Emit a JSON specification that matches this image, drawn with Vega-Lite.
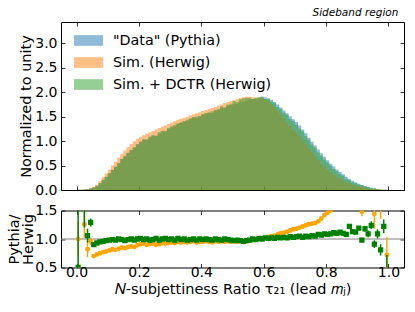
{
  "$schema": "https://vega.github.io/schema/vega-lite/v6.json",
  "padding": {"left": 5, "top": 7, "right": 12, "bottom": 5},
  "spacing": 4.5,
  "config": {
    "font": "DejaVu Sans",
    "view": {"stroke": "#000", "strokeWidth": 1},
    "axis": {
      "labelFont": "DejaVu Sans", "labelFontSize": 14, "labelColor": "#000",
      "titleFont": "DejaVu Sans", "titleFontSize": 14.5, "titleFontWeight": "normal", "titleColor": "#000",
      "tickColor": "#000", "tickSize": -4, "tickWidth": 0.8, "domain": false, "grid": false, "labelPadding": 1
    },
    "axisLeft": {"labelPadding": 8},
    "axisBottom": {"labelPadding": 2}
  },
  "datasets": {
    "hist": [
      {"x":0.005,"p":0.003,"h":0.003,"d":0.004},{"x":0.015,"p":0.006,"h":0.004,"d":0.005},{"x":0.025,"p":0.010,"h":0.008,"d":0.006},{"x":0.035,"p":0.016,"h":0.020,"d":0.015},{"x":0.045,"p":0.036,"h":0.040,"d":0.028},
      {"x":0.055,"p":0.046,"h":0.065,"d":0.051},{"x":0.065,"p":0.080,"h":0.110,"d":0.086},{"x":0.075,"p":0.135,"h":0.180,"d":0.142},{"x":0.085,"p":0.200,"h":0.260,"d":0.208},{"x":0.095,"p":0.265,"h":0.340,"d":0.273},
      {"x":0.105,"p":0.336,"h":0.420,"d":0.343},{"x":0.115,"p":0.410,"h":0.500,"d":0.414},{"x":0.125,"p":0.470,"h":0.580,"d":0.480},{"x":0.135,"p":0.548,"h":0.660,"d":0.548},{"x":0.145,"p":0.629,"h":0.740,"d":0.635},
      {"x":0.155,"p":0.680,"h":0.810,"d":0.701},{"x":0.165,"p":0.757,"h":0.880,"d":0.765},{"x":0.175,"p":0.818,"h":0.940,"d":0.818},{"x":0.185,"p":0.860,"h":1.000,"d":0.878},{"x":0.195,"p":0.935,"h":1.050,"d":0.935},
      {"x":0.205,"p":0.992,"h":1.090,"d":0.982},{"x":0.215,"p":1.030,"h":1.120,"d":1.040},{"x":0.225,"p":1.035,"h":1.150,"d":1.035},{"x":0.235,"p":1.074,"h":1.180,"d":1.096},{"x":0.245,"p":1.113,"h":1.210,"d":1.124},
      {"x":0.255,"p":1.116,"h":1.240,"d":1.105},{"x":0.265,"p":1.156,"h":1.270,"d":1.180},{"x":0.275,"p":1.209,"h":1.300,"d":1.209},{"x":0.285,"p":1.214,"h":1.320,"d":1.202},{"x":0.295,"p":1.256,"h":1.350,"d":1.269},
      {"x":0.305,"p":1.297,"h":1.380,"d":1.297},{"x":0.315,"p":1.311,"h":1.410,"d":1.338},{"x":0.325,"p":1.368,"h":1.440,"d":1.354},{"x":0.335,"p":1.372,"h":1.460,"d":1.386},{"x":0.345,"p":1.406,"h":1.480,"d":1.406},
      {"x":0.355,"p":1.410,"h":1.500,"d":1.439},{"x":0.365,"p":1.454,"h":1.530,"d":1.469},{"x":0.375,"p":1.488,"h":1.550,"d":1.488},{"x":0.385,"p":1.476,"h":1.570,"d":1.506},{"x":0.395,"p":1.510,"h":1.590,"d":1.510},
      {"x":0.405,"p":1.539,"h":1.620,"d":1.555},{"x":0.415,"p":1.574,"h":1.640,"d":1.574},{"x":0.425,"p":1.577,"h":1.660,"d":1.593},{"x":0.435,"p":1.579,"h":1.680,"d":1.611},{"x":0.445,"p":1.632,"h":1.700,"d":1.632},
      {"x":0.455,"p":1.644,"h":1.730,"d":1.661},{"x":0.465,"p":1.680,"h":1.750,"d":1.714},{"x":0.475,"p":1.691,"h":1.780,"d":1.691},{"x":0.485,"p":1.728,"h":1.800,"d":1.745},{"x":0.495,"p":1.729,"h":1.820,"d":1.764},
      {"x":0.505,"p":1.766,"h":1.840,"d":1.821},{"x":0.515,"p":1.767,"h":1.860,"d":1.803},{"x":0.525,"p":1.805,"h":1.880,"d":1.861},{"x":0.535,"p":1.805,"h":1.900,"d":1.880},{"x":0.545,"p":1.834,"h":1.910,"d":1.891},
      {"x":0.555,"p":1.853,"h":1.910,"d":1.891},{"x":0.565,"p":1.862,"h":1.900,"d":1.862},{"x":0.575,"p":1.871,"h":1.890,"d":1.890},{"x":0.585,"p":1.900,"h":1.900,"d":1.881},{"x":0.595,"p":1.910,"h":1.890,"d":1.910},
      {"x":0.605,"p":1.900,"h":1.863,"d":1.863},{"x":0.615,"p":1.880,"h":1.825,"d":1.861},{"x":0.625,"p":1.850,"h":1.762,"d":1.814},{"x":0.635,"p":1.800,"h":1.698,"d":1.782},{"x":0.645,"p":1.750,"h":1.620,"d":1.699},
      {"x":0.655,"p":1.690,"h":1.536,"d":1.657},{"x":0.665,"p":1.630,"h":1.468,"d":1.583},{"x":0.675,"p":1.570,"h":1.389,"d":1.539},{"x":0.685,"p":1.510,"h":1.313,"d":1.452},{"x":0.695,"p":1.450,"h":1.239,"d":1.408},
      {"x":0.705,"p":1.390,"h":1.178,"d":1.337},{"x":0.715,"p":1.320,"h":1.100,"d":1.257},{"x":0.725,"p":1.240,"h":1.016,"d":1.204},{"x":0.735,"p":1.160,"h":0.935,"d":1.105},{"x":0.745,"p":1.070,"h":0.849,"d":1.029},
      {"x":0.755,"p":0.990,"h":0.780,"d":0.934},{"x":0.765,"p":0.910,"h":0.689,"d":0.867},{"x":0.775,"p":0.830,"h":0.610,"d":0.769},{"x":0.785,"p":0.750,"h":0.536,"d":0.701},{"x":0.795,"p":0.680,"h":0.469,"d":0.624},
      {"x":0.805,"p":0.610,"h":0.412,"d":0.565},{"x":0.815,"p":0.540,"h":0.360,"d":0.495},{"x":0.825,"p":0.480,"h":0.310,"d":0.432},{"x":0.835,"p":0.420,"h":0.262,"d":0.382},{"x":0.845,"p":0.370,"h":0.228,"d":0.330},
      {"x":0.855,"p":0.320,"h":0.193,"d":0.291},{"x":0.865,"p":0.270,"h":0.159,"d":0.221},{"x":0.875,"p":0.230,"h":0.134,"d":0.204},{"x":0.885,"p":0.190,"h":0.109,"d":0.160},{"x":0.895,"p":0.160,"h":0.094,"d":0.145},
      {"x":0.905,"p":0.130,"h":0.072,"d":0.110},{"x":0.915,"p":0.100,"h":0.068,"d":0.102},{"x":0.925,"p":0.080,"h":0.043,"d":0.073},{"x":0.935,"p":0.060,"h":0.032,"d":0.067},{"x":0.945,"p":0.045,"h":0.022,"d":0.036},
      {"x":0.955,"p":0.030,"h":0.021,"d":0.037},{"x":0.965,"p":0.020,"h":0.010,"d":0.017},{"x":0.975,"p":0.010,"h":0.006,"d":0.012},{"x":0.985,"p":0.005,"h":0.0025,"d":0.005},{"x":0.995,"p":0.002,"h":0.003,"d":0.005}
    ],
    "ro": [
      {"x":0.005,"r":1.00,"lo":0.70,"hi":1.30},{"x":0.025,"r":1.26,"lo":1.02,"hi":1.60},{"x":0.035,"r":0.82,"lo":0.68,"hi":0.96},{"x":0.045,"r":0.96,"lo":0.90,"hi":1.02},
      {"x":0.055,"r":0.70,"lo":0.67,"hi":0.73},{"x":0.065,"r":0.73,"lo":0.71,"hi":0.75},{"x":0.075,"r":0.75,"lo":0.73,"hi":0.77},{"x":0.085,"r":0.77,"lo":0.755,"hi":0.785},
      {"x":0.095,"r":0.78,"lo":0.768,"hi":0.792},{"x":0.105,"r":0.80,"lo":0.788,"hi":0.812},{"x":0.115,"r":0.82,"lo":0.808,"hi":0.832},{"x":0.125,"r":0.81,"lo":0.798,"hi":0.822},
      {"x":0.135,"r":0.83,"lo":0.818,"hi":0.842},{"x":0.145,"r":0.85,"lo":0.838,"hi":0.862},{"x":0.155,"r":0.84,"lo":0.828,"hi":0.852},{"x":0.165,"r":0.86,"lo":0.848,"hi":0.872},
      {"x":0.175,"r":0.87,"lo":0.86,"hi":0.88},{"x":0.185,"r":0.86,"lo":0.85,"hi":0.87},{"x":0.195,"r":0.89,"lo":0.88,"hi":0.90},{"x":0.205,"r":0.91,"lo":0.90,"hi":0.92},
      {"x":0.215,"r":0.92,"lo":0.91,"hi":0.93},{"x":0.225,"r":0.90,"lo":0.89,"hi":0.91},{"x":0.235,"r":0.91,"lo":0.90,"hi":0.92},{"x":0.245,"r":0.92,"lo":0.91,"hi":0.93},
      {"x":0.255,"r":0.90,"lo":0.89,"hi":0.91},{"x":0.265,"r":0.91,"lo":0.90,"hi":0.92},{"x":0.275,"r":0.93,"lo":0.92,"hi":0.94},{"x":0.285,"r":0.92,"lo":0.91,"hi":0.93},
      {"x":0.295,"r":0.93,"lo":0.92,"hi":0.94},{"x":0.305,"r":0.94,"lo":0.93,"hi":0.95},{"x":0.315,"r":0.93,"lo":0.92,"hi":0.94},{"x":0.325,"r":0.95,"lo":0.94,"hi":0.96},
      {"x":0.335,"r":0.94,"lo":0.93,"hi":0.95},{"x":0.345,"r":0.95,"lo":0.94,"hi":0.96},{"x":0.355,"r":0.94,"lo":0.93,"hi":0.95},{"x":0.365,"r":0.95,"lo":0.94,"hi":0.96},
      {"x":0.375,"r":0.96,"lo":0.95,"hi":0.97},{"x":0.385,"r":0.94,"lo":0.93,"hi":0.95},{"x":0.395,"r":0.95,"lo":0.94,"hi":0.96},{"x":0.405,"r":0.95,"lo":0.94,"hi":0.96},
      {"x":0.415,"r":0.96,"lo":0.95,"hi":0.97},{"x":0.425,"r":0.95,"lo":0.94,"hi":0.96},{"x":0.435,"r":0.94,"lo":0.93,"hi":0.95},{"x":0.445,"r":0.96,"lo":0.95,"hi":0.97},
      {"x":0.455,"r":0.95,"lo":0.94,"hi":0.96},{"x":0.465,"r":0.96,"lo":0.95,"hi":0.97},{"x":0.475,"r":0.95,"lo":0.94,"hi":0.96},{"x":0.485,"r":0.96,"lo":0.95,"hi":0.97},
      {"x":0.495,"r":0.95,"lo":0.94,"hi":0.96},{"x":0.505,"r":0.96,"lo":0.95,"hi":0.97},{"x":0.515,"r":0.95,"lo":0.94,"hi":0.96},{"x":0.525,"r":0.96,"lo":0.95,"hi":0.97},
      {"x":0.535,"r":0.95,"lo":0.94,"hi":0.96},{"x":0.545,"r":0.96,"lo":0.95,"hi":0.97},{"x":0.555,"r":0.97,"lo":0.96,"hi":0.98},{"x":0.565,"r":0.98,"lo":0.97,"hi":0.99},
      {"x":0.575,"r":0.99,"lo":0.98,"hi":1.00},{"x":0.585,"r":1.00,"lo":0.99,"hi":1.01},{"x":0.595,"r":1.01,"lo":1.00,"hi":1.02},{"x":0.605,"r":1.02,"lo":1.01,"hi":1.03},
      {"x":0.615,"r":1.03,"lo":1.02,"hi":1.04},{"x":0.625,"r":1.05,"lo":1.04,"hi":1.06},{"x":0.635,"r":1.06,"lo":1.05,"hi":1.07},{"x":0.645,"r":1.08,"lo":1.07,"hi":1.09},
      {"x":0.655,"r":1.10,"lo":1.09,"hi":1.11},{"x":0.665,"r":1.11,"lo":1.10,"hi":1.12},{"x":0.675,"r":1.13,"lo":1.12,"hi":1.14},{"x":0.685,"r":1.15,"lo":1.14,"hi":1.16},
      {"x":0.695,"r":1.17,"lo":1.16,"hi":1.18},{"x":0.705,"r":1.18,"lo":1.17,"hi":1.19},{"x":0.715,"r":1.20,"lo":1.19,"hi":1.21},{"x":0.725,"r":1.22,"lo":1.21,"hi":1.23},
      {"x":0.735,"r":1.24,"lo":1.23,"hi":1.25},{"x":0.745,"r":1.26,"lo":1.25,"hi":1.27},{"x":0.755,"r":1.27,"lo":1.26,"hi":1.28},{"x":0.765,"r":1.28,"lo":1.265,"hi":1.295},
      {"x":0.775,"r":1.31,"lo":1.295,"hi":1.325},{"x":0.785,"r":1.36,"lo":1.34,"hi":1.38},{"x":0.795,"r":1.42,"lo":1.40,"hi":1.44},{"x":0.805,"r":1.46,"lo":1.44,"hi":1.48},
      {"x":0.815,"r":1.50,"lo":1.47,"hi":1.53},{"x":0.825,"r":1.55,"lo":1.52,"hi":1.58},{"x":0.835,"r":1.60,"lo":1.57,"hi":1.63},{"x":0.845,"r":1.62,"lo":1.58,"hi":1.66},
      {"x":0.855,"r":1.66,"lo":1.62,"hi":1.70},{"x":0.865,"r":1.70,"lo":1.65,"hi":1.75},{"x":0.875,"r":1.72,"lo":1.66,"hi":1.78},{"x":0.885,"r":1.75,"lo":1.68,"hi":1.82},
      {"x":0.895,"r":1.70,"lo":1.62,"hi":1.78},{"x":0.905,"r":1.80,"lo":1.70,"hi":1.90},{"x":0.915,"r":1.48,"lo":1.40,"hi":1.56},{"x":0.925,"r":1.85,"lo":1.72,"hi":1.98},
      {"x":0.935,"r":1.90,"lo":1.75,"hi":2.05},{"x":0.945,"r":2.00,"lo":1.80,"hi":2.20},{"x":0.955,"r":1.44,"lo":1.18,"hi":1.70},{"x":0.965,"r":2.10,"lo":1.80,"hi":2.40},
      {"x":0.975,"r":1.70,"lo":1.35,"hi":2.05},{"x":0.995,"r":0.72,"lo":0.30,"hi":1.03}
    ],
    "rg": [
      {"x":0.005,"r":0.50,"lo":-0.50,"hi":1.60},{"x":0.025,"r":1.80,"lo":1.20,"hi":2.40},{"x":0.035,"r":1.06,"lo":0.94,"hi":1.18},{"x":0.045,"r":1.29,"lo":1.22,"hi":1.36},
      {"x":0.055,"r":0.90,"lo":0.87,"hi":0.93},{"x":0.065,"r":0.93,"lo":0.91,"hi":0.95},{"x":0.075,"r":0.95,"lo":0.93,"hi":0.97},{"x":0.085,"r":0.96,"lo":0.945,"hi":0.975},
      {"x":0.095,"r":0.97,"lo":0.958,"hi":0.982},{"x":0.105,"r":0.98,"lo":0.968,"hi":0.992},{"x":0.115,"r":0.99,"lo":0.978,"hi":1.002},{"x":0.125,"r":0.98,"lo":0.968,"hi":0.992},
      {"x":0.135,"r":1.00,"lo":0.988,"hi":1.012},{"x":0.145,"r":0.99,"lo":0.978,"hi":1.002},{"x":0.155,"r":0.97,"lo":0.958,"hi":0.982},{"x":0.165,"r":0.99,"lo":0.978,"hi":1.002},
      {"x":0.175,"r":1.00,"lo":0.99,"hi":1.01},{"x":0.185,"r":0.98,"lo":0.97,"hi":0.99},{"x":0.195,"r":1.00,"lo":0.99,"hi":1.01},{"x":0.205,"r":1.01,"lo":1.00,"hi":1.02},
      {"x":0.215,"r":0.99,"lo":0.98,"hi":1.00},{"x":0.225,"r":1.00,"lo":0.99,"hi":1.01},{"x":0.235,"r":0.98,"lo":0.97,"hi":0.99},{"x":0.245,"r":0.99,"lo":0.98,"hi":1.00},
      {"x":0.255,"r":1.01,"lo":1.00,"hi":1.02},{"x":0.265,"r":0.98,"lo":0.97,"hi":0.99},{"x":0.275,"r":1.00,"lo":0.99,"hi":1.01},{"x":0.285,"r":1.01,"lo":1.00,"hi":1.02},
      {"x":0.295,"r":0.99,"lo":0.98,"hi":1.00},{"x":0.305,"r":1.00,"lo":0.99,"hi":1.01},{"x":0.315,"r":0.98,"lo":0.97,"hi":0.99},{"x":0.325,"r":1.01,"lo":1.00,"hi":1.02},
      {"x":0.335,"r":0.99,"lo":0.98,"hi":1.00},{"x":0.345,"r":1.00,"lo":0.99,"hi":1.01},{"x":0.355,"r":0.98,"lo":0.97,"hi":0.99},{"x":0.365,"r":0.99,"lo":0.98,"hi":1.00},
      {"x":0.375,"r":1.00,"lo":0.99,"hi":1.01},{"x":0.385,"r":0.98,"lo":0.97,"hi":0.99},{"x":0.395,"r":1.00,"lo":0.99,"hi":1.01},{"x":0.405,"r":0.99,"lo":0.98,"hi":1.00},
      {"x":0.415,"r":1.00,"lo":0.99,"hi":1.01},{"x":0.425,"r":0.99,"lo":0.98,"hi":1.00},{"x":0.435,"r":0.98,"lo":0.97,"hi":0.99},{"x":0.445,"r":1.00,"lo":0.99,"hi":1.01},
      {"x":0.455,"r":0.99,"lo":0.98,"hi":1.00},{"x":0.465,"r":0.98,"lo":0.97,"hi":0.99},{"x":0.475,"r":1.00,"lo":0.99,"hi":1.01},{"x":0.485,"r":0.99,"lo":0.98,"hi":1.00},
      {"x":0.495,"r":0.98,"lo":0.97,"hi":0.99},{"x":0.505,"r":0.97,"lo":0.96,"hi":0.98},{"x":0.515,"r":0.98,"lo":0.97,"hi":0.99},{"x":0.525,"r":0.97,"lo":0.96,"hi":0.98},
      {"x":0.535,"r":0.96,"lo":0.95,"hi":0.97},{"x":0.545,"r":0.97,"lo":0.96,"hi":0.98},{"x":0.555,"r":0.98,"lo":0.97,"hi":0.99},{"x":0.565,"r":1.00,"lo":0.99,"hi":1.01},
      {"x":0.575,"r":0.99,"lo":0.98,"hi":1.00},{"x":0.585,"r":1.01,"lo":1.00,"hi":1.02},{"x":0.595,"r":1.00,"lo":0.99,"hi":1.01},{"x":0.605,"r":1.02,"lo":1.01,"hi":1.03},
      {"x":0.615,"r":1.01,"lo":1.00,"hi":1.02},{"x":0.625,"r":1.02,"lo":1.01,"hi":1.03},{"x":0.635,"r":1.01,"lo":1.00,"hi":1.02},{"x":0.645,"r":1.03,"lo":1.02,"hi":1.04},
      {"x":0.655,"r":1.02,"lo":1.01,"hi":1.03},{"x":0.665,"r":1.03,"lo":1.02,"hi":1.04},{"x":0.675,"r":1.02,"lo":1.01,"hi":1.03},{"x":0.685,"r":1.04,"lo":1.03,"hi":1.05},
      {"x":0.695,"r":1.03,"lo":1.02,"hi":1.04},{"x":0.705,"r":1.04,"lo":1.03,"hi":1.05},{"x":0.715,"r":1.05,"lo":1.04,"hi":1.06},{"x":0.725,"r":1.03,"lo":1.02,"hi":1.04},
      {"x":0.735,"r":1.05,"lo":1.04,"hi":1.06},{"x":0.745,"r":1.04,"lo":1.03,"hi":1.05},{"x":0.755,"r":1.06,"lo":1.05,"hi":1.07},{"x":0.765,"r":1.05,"lo":1.04,"hi":1.06},
      {"x":0.775,"r":1.08,"lo":1.07,"hi":1.09},{"x":0.785,"r":1.07,"lo":1.06,"hi":1.08},{"x":0.795,"r":1.09,"lo":1.08,"hi":1.10},{"x":0.805,"r":1.08,"lo":1.065,"hi":1.095},
      {"x":0.815,"r":1.09,"lo":1.075,"hi":1.105},{"x":0.825,"r":1.11,"lo":1.095,"hi":1.125},{"x":0.835,"r":1.10,"lo":1.08,"hi":1.12},{"x":0.845,"r":1.12,"lo":1.10,"hi":1.14},
      {"x":0.855,"r":1.10,"lo":1.08,"hi":1.12},{"x":0.865,"r":1.08,"lo":1.05,"hi":1.11},{"x":0.875,"r":1.22,"lo":1.19,"hi":1.25},{"x":0.885,"r":1.13,"lo":1.10,"hi":1.16},
      {"x":0.895,"r":1.12,"lo":1.08,"hi":1.16},{"x":0.905,"r":1.19,"lo":1.15,"hi":1.23},{"x":0.915,"r":0.98,"lo":0.94,"hi":1.02},{"x":0.925,"r":1.18,"lo":1.13,"hi":1.23},
      {"x":0.935,"r":1.09,"lo":1.03,"hi":1.15},{"x":0.945,"r":1.24,"lo":1.17,"hi":1.31},{"x":0.955,"r":0.91,"lo":0.84,"hi":0.98},{"x":0.965,"r":1.09,"lo":1.01,"hi":1.17},
      {"x":0.975,"r":0.81,"lo":0.71,"hi":0.91},{"x":0.985,"r":1.22,"lo":1.10,"hi":1.34},{"x":0.995,"r":0.35,"lo":-0.20,"hi":0.72}
    ]
  },
  "vconcat": [
    {
      "width": 343,
      "height": 168,
      "title": {"text": "Sideband region", "anchor": "end", "fontSize": 10.5, "fontStyle": "italic", "fontWeight": "normal", "font": "DejaVu Sans", "color": "#000", "offset": 3, "dx": -6},
      "data": {"name": "hist"},
      "layer": [
        {
          "mark": {"type": "area", "interpolate": "step", "opacity": 0.5},
          "encoding": {
            "x": {"field": "x", "type": "quantitative", "scale": {"domain": [-0.05, 1.05], "nice": false, "zero": false},
                  "axis": {"values": [0, 0.2, 0.4, 0.6, 0.8, 1.0], "labels": false, "title": null, "labelPadding": 1}},
            "y": {"field": "p", "type": "quantitative", "scale": {"domain": [0, 3.44], "nice": false},
                  "axis": {"values": [0, 0.5, 1, 1.5, 2, 2.5, 3], "format": ".1f", "title": "Normalized to unity", "titleX": -35, "titleBaseline": "middle"}},
            "color": {"datum": "\"Data\" (Pythia)",
                      "scale": {"domain": ["\"Data\" (Pythia)", "Sim. (Herwig)", "Sim. + DCTR (Herwig)"], "range": ["#1f77b4", "#ff7f0e", "#2ca02c"]},
                      "legend": {"orient": "none", "legendX": 13, "legendY": 4, "title": null,
                                 "symbolType": "M-1,-0.37H1V0.37H-1Z", "symbolSize": 841, "symbolOpacity": 0.5, "symbolStrokeWidth": 0,
                                 "labelFont": "DejaVu Sans", "labelFontSize": 14.3, "labelColor": "#000", "labelOffset": 10, "labelLimit": 300, "rowPadding": -3}}
          }
        },
        {
          "mark": {"type": "area", "interpolate": "step", "opacity": 0.5},
          "encoding": {
            "x": {"field": "x", "type": "quantitative", "axis": null},
            "y": {"field": "h", "type": "quantitative", "axis": null},
            "color": {"datum": "Sim. (Herwig)"}
          }
        },
        {
          "mark": {"type": "area", "interpolate": "step", "opacity": 0.5},
          "encoding": {
            "x": {"field": "x", "type": "quantitative", "axis": {"orient": "top", "values": [0, 0.2, 0.4, 0.6, 0.8, 1.0], "labels": false, "title": null}},
            "y": {"field": "d", "type": "quantitative", "axis": {"orient": "right", "values": [0, 0.5, 1, 1.5, 2, 2.5, 3], "labels": false, "title": null}},
            "color": {"datum": "Sim. + DCTR (Herwig)"}
          }
        }
      ],
      "resolve": {"axis": {"x": "independent", "y": "independent"}}
    },
    {
      "width": 343,
      "height": 57,
      "layer": [
        {
          "data": {"values": [{"ref": 1}]},
          "mark": {"type": "rule", "color": "#808080", "strokeWidth": 1.2},
          "encoding": {
            "y": {"field": "ref", "type": "quantitative", "scale": {"domain": [0.5, 1.5], "nice": false, "zero": false}, "axis": null}
          }
        },
        {
          "data": {"name": "ro"},
          "mark": {"type": "rule", "color": "#ffa500", "strokeWidth": 1.5, "clip": true},
          "encoding": {
            "x": {"field": "x", "type": "quantitative", "scale": {"domain": [-0.05, 1.05], "nice": false, "zero": false}, "axis": null},
            "y": {"field": "lo", "type": "quantitative", "axis": null},
            "y2": {"field": "hi"}
          }
        },
        {
          "data": {"name": "ro"},
          "mark": {"type": "point", "shape": "circle", "filled": true, "size": 24, "color": "#ffa500", "opacity": 1, "clip": true},
          "encoding": {
            "x": {"field": "x", "type": "quantitative",
                  "axis": {"values": [0, 0.2, 0.4, 0.6, 0.8, 1.0], "format": ".1f", "title": "𝑁-subjettiness Ratio τ₂₁ (lead 𝑚ⱼ)", "titlePadding": 3}},
            "y": {"field": "r", "type": "quantitative",
                  "axis": {"values": [0.5, 1, 1.5], "format": ".1f", "title": ["Pythia/", "Herwig"], "titleX": -47, "titleBaseline": "middle", "titleLineHeight": 14}}
          }
        },
        {
          "data": {"name": "rg"},
          "mark": {"type": "rule", "color": "#008000", "strokeWidth": 1.5, "clip": true},
          "encoding": {
            "x": {"field": "x", "type": "quantitative", "axis": null},
            "y": {"field": "lo", "type": "quantitative", "axis": null},
            "y2": {"field": "hi"}
          }
        },
        {
          "data": {"name": "rg"},
          "mark": {"type": "point", "shape": "square", "filled": true, "size": 28, "color": "#008000", "opacity": 1, "clip": true},
          "encoding": {
            "x": {"field": "x", "type": "quantitative", "axis": {"orient": "top", "values": [0, 0.2, 0.4, 0.6, 0.8, 1.0], "labels": false, "title": null}},
            "y": {"field": "r", "type": "quantitative", "axis": {"orient": "right", "values": [0.5, 1, 1.5], "labels": false, "title": null}}
          }
        }
      ],
      "resolve": {"axis": {"x": "independent", "y": "independent"}}
    }
  ]
}
